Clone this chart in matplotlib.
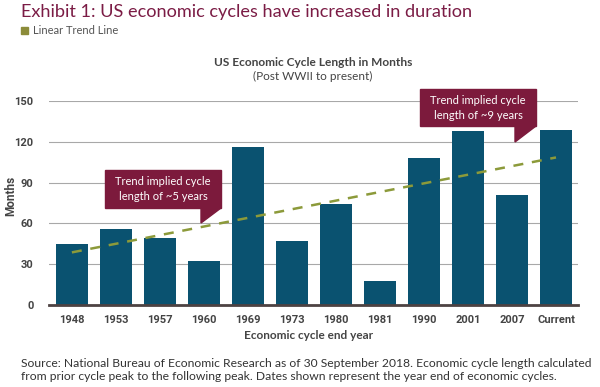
import numpy as np
import matplotlib
matplotlib.use("Agg")
import matplotlib.pyplot as plt
from matplotlib.patches import Polygon, Rectangle

# ---- data ----
categories = ["1948", "1953", "1957", "1960", "1969", "1973", "1980",
              "1981", "1990", "2001", "2007", "Current"]
months = [45, 56, 49, 32, 116, 47, 74, 18, 108, 128, 81, 129]
yticks = [0, 30, 60, 90, 120, 150]

W, H = 600, 387
fig = plt.figure(figsize=(6, 3.87), dpi=100)

def fx(px):
    return px / W

def fy(py):
    return 1 - py / H

BAR = "#0a5270"
MAROON = "#7b1c45"
BOX = "#7c1a3c"
TREND = "#8c9a3a"

ax = fig.add_axes([fx(49), fy(305), fx(578) - fx(49), fy(101) - fy(305)])
x = np.arange(len(categories))
ax.bar(x, months, width=0.73, color=BAR, zorder=2)

coef = np.polyfit(x, months, 1)
ax.plot(x, np.polyval(coef, x), ls=(0, (4, 3.5)), color=TREND, lw=1.8, zorder=3)

ax.set_xlim(-0.52, len(categories) - 0.5)
ax.set_ylim(0, 150)
ax.set_yticks(yticks)
ax.set_xticks(x)
ax.set_xticklabels(categories)
ax.grid(axis="y", color="#a8a8a8", lw=0.8, zorder=0)
ax.set_axisbelow(True)
for s in ["top", "right", "left"]:
    ax.spines[s].set_visible(False)
ax.spines["bottom"].set_color("#4d4242")
ax.spines["bottom"].set_linewidth(2)
ax.spines["bottom"].set_zorder(4)
ax.tick_params(axis="both", length=0, labelsize=8, labelcolor="#444444")
ax.tick_params(axis="y", pad=11)
ax.tick_params(axis="x", pad=7)
for lab in ax.get_xticklabels() + ax.get_yticklabels():
    lab.set_fontfamily("Roboto")
    lab.set_fontweight("bold")

# y label
fig.text(fx(11), fy(196), "Months", rotation=90, ha="center", va="center",
         fontsize=8.5, fontweight="bold", color="#444444", family="Roboto")
# x label
fig.text(fx(309), fy(339), "Economic cycle end year", ha="center", va="baseline",
         fontsize=8.5, fontweight="bold", color="#444444", family="Lato")

# titles
fig.text(fx(21), fy(17.5), "Exhibit 1: US economic cycles have increased in duration",
         ha="left", va="baseline", fontsize=13.1, color=MAROON, family="Lato")
fig.patches.append(Rectangle((fx(21), fy(34)), fx(7), fy(27) - fy(34),
                             transform=fig.transFigure, color="#8c8c3a"))
fig.text(fx(33), fy(34), "Linear Trend Line", ha="left", va="baseline",
         fontsize=8.0, color="#555555", family="Lato")
fig.text(fx(313), fy(66), "US Economic Cycle Length in Months", ha="center",
         va="baseline", fontsize=8.6, fontweight="bold", color="#444444", family="Lato")
fig.text(fx(313), fy(80), "(Post WWII to present)", ha="center",
         va="baseline", fontsize=8.5, color="#444444", family="Lato")

# source
fig.text(fx(21), fy(367),
         "Source: National Bureau of Economic Research as of 30 September 2018. Economic cycle length calculated",
         ha="left", va="baseline", fontsize=8.7, color="#333333", family="Lato")
fig.text(fx(21), fy(380),
         "from prior cycle peak to the following peak. Dates shown represent the year end of economic cycles.",
         ha="left", va="baseline", fontsize=8.7, color="#333333", family="Lato")

# callout boxes
def callout(x0, x1, y0, y1, tipx, tipy, lines):
    fig.patches.append(Rectangle((fx(x0), fy(y1)), fx(x1) - fx(x0), fy(y0) - fy(y1),
                                 transform=fig.transFigure, color=BOX, zorder=5))
    fig.patches.append(Polygon([(fx(tipx), fy(y1)), (fx(x1), fy(y1)), (fx(tipx), fy(tipy))],
                               closed=True, transform=fig.transFigure, color=BOX, zorder=5))
    cx = (x0 + x1) / 2
    fig.text(fx(cx), fy(y0 + 15), lines[0], ha="center", va="baseline",
             fontsize=8.0, color="white", family="Lato", zorder=6)
    fig.text(fx(cx), fy(y0 + 30), lines[1], ha="center", va="baseline",
             fontsize=8.0, color="white", family="Lato", zorder=6)

callout(105, 221, 170, 208, 201, 223, ["Trend implied cycle", "length of ~5 years"])
callout(420, 536, 89, 126, 515, 142, ["Trend implied cycle", "length of ~9 years"])

fig.savefig("out.png", dpi=100)
